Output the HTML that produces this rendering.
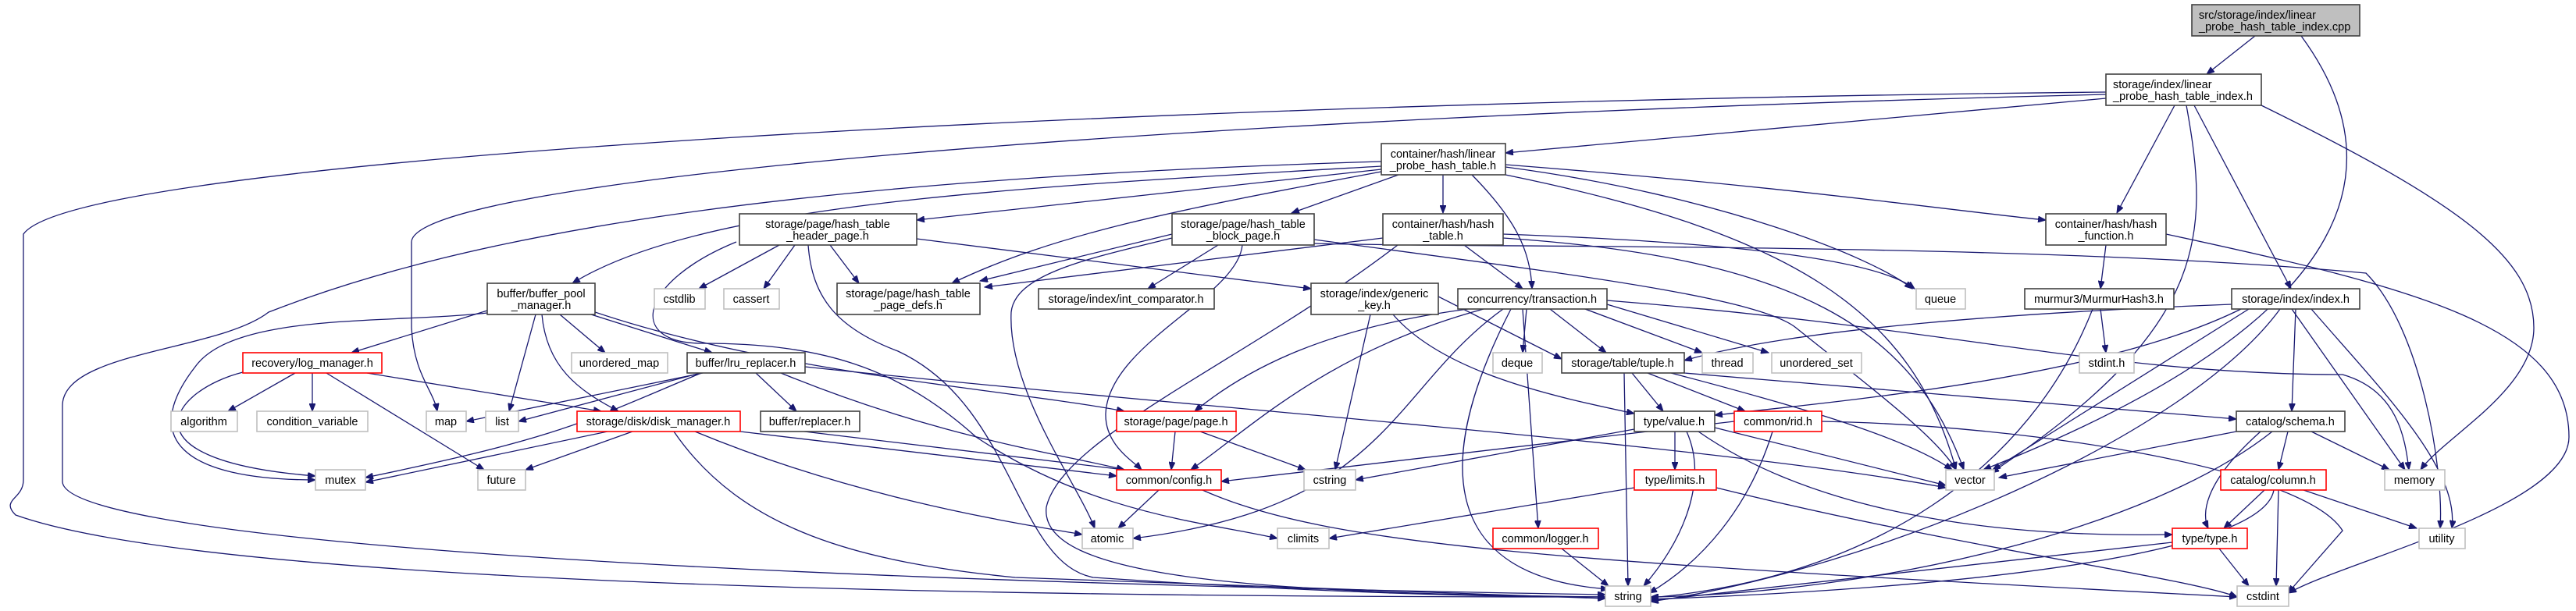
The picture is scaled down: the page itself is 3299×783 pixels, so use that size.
<!DOCTYPE html>
<html><head><meta charset="utf-8"><style>
html,body{margin:0;padding:0;background:#fff;width:3299px;height:783px;overflow:hidden}
svg{display:block}
text{font-family:"Liberation Sans",sans-serif;font-size:14.5px;fill:#000}
.e{fill:none;stroke:#191970;stroke-width:1.3;marker-end:url(#a)}
.n{fill:#fff;stroke:#404040;stroke-width:1.6}
.g{fill:#fff;stroke:#bfbfbf;stroke-width:1.6}
.r{fill:#fff;stroke:#ff0000;stroke-width:1.6}
.c{fill:#bfbfbf;stroke:#404040;stroke-width:1.6}
</style></head><body>
<svg width="3299" height="783" viewBox="0 0 3299 783" xmlns="http://www.w3.org/2000/svg">
<defs><marker id="a" markerUnits="userSpaceOnUse" markerWidth="11" markerHeight="8" refX="10" refY="4" orient="auto"><path d="M0,0 L10,4 L0,8 z" fill="#191970" stroke="#191970"/></marker></defs>
<g>
<path class="e" d="M2888,46 L2826,95"/>
<path class="e" d="M2947,46 C3060,200 3050,400 2540,602"/>
<path class="e" d="M2697,118 C1500,130 100,200 30,300 L30,615 C30,640 0,640 20,660 C300,760 1500,765 2056,765"/>
<path class="e" d="M2697,121 C1500,150 530,230 527,310 L527,420 C530,480 555,500 560,527"/>
<path class="e" d="M2697,126 L1928,196"/>
<path class="e" d="M2785,135 L2711,273"/>
<path class="e" d="M2800,135 C2830,300 2830,420 2550,606"/>
<path class="e" d="M2810,135 L2934,370"/>
<path class="e" d="M2896,135 C3150,260 3245,330 3245,420 C3245,500 3130,560 3100,602"/>
<path class="e" d="M1769,207 C1000,230 600,300 344,400 C280,450 80,450 80,520 L80,617 C80,680 700,740 2056,762"/>
<path class="e" d="M1769,213 C1300,240 900,260 733,363"/>
<path class="e" d="M1769,217 L1174,282"/>
<path class="e" d="M1769,220 C1500,270 1350,300 1219,363"/>
<path class="e" d="M1791,224 L1654,273"/>
<path class="e" d="M1848,224 L1848,273"/>
<path class="e" d="M1885,224 C1940,280 1960,320 1962,370"/>
<path class="e" d="M1928,211 C2300,240 2500,270 2620,282"/>
<path class="e" d="M1928,214 C2200,250 2400,330 2449,370"/>
<path class="e" d="M1928,224 C2300,300 2450,400 2505,602"/>
<path class="e" d="M1771,305 L1261,368"/>
<path class="e" d="M1875,314 L1950,370"/>
<path class="e" d="M1790,314 C1600,460 1360,560 1340,650 C1330,740 1600,760 2056,765"/>
<path class="e" d="M1925,300 C2200,310 2400,330 2452,370"/>
<path class="e" d="M1925,305 C2300,330 2450,420 2515,602"/>
<path class="e" d="M1683,312 C1900,318 2600,310 3030,350 C3100,420 3130,600 3125,677"/>
<path class="e" d="M1501,300 L1255,360"/>
<path class="e" d="M1560,314 L1470,370"/>
<path class="e" d="M1591,314 C1585,380 1420,440 1416,530 C1415,570 1450,590 1462,602"/>
<path class="e" d="M1501,305 C1400,330 1300,350 1295,400 C1290,500 1380,620 1402,677"/>
<path class="e" d="M1683,307 C2000,350 2250,380 2300,420 C2400,500 2480,560 2505,602"/>
<path class="e" d="M998,314 L895,370"/>
<path class="e" d="M1018,314 L978,370"/>
<path class="e" d="M1063,314 L1100,363"/>
<path class="e" d="M1174,306 L1679,370"/>
<path class="e" d="M943,310 C820,360 800,440 900,440 C1050,440 1150,470 1250,560 C1400,660 1550,670 1636,690"/>
<path class="e" d="M1035,314 C1040,380 1070,420 1150,450 C1300,520 1300,720 1400,740 C1700,760 1900,765 2056,765"/>
<path class="e" d="M624,398 L450,452"/>
<path class="e" d="M624,401 C500,415 300,400 250,470 C180,560 230,615 404,615"/>
<path class="e" d="M686,403 L652,527"/>
<path class="e" d="M717,403 L775,452"/>
<path class="e" d="M757,403 L912,452"/>
<path class="e" d="M694,403 C700,470 740,500 792,527"/>
<path class="e" d="M762,400 C1000,480 1300,500 1440,527"/>
<path class="e" d="M378,478 L292,527"/>
<path class="e" d="M400,478 L400,527"/>
<path class="e" d="M418,478 L620,602"/>
<path class="e" d="M311,477 C220,500 150,590 404,610"/>
<path class="e" d="M470,478 L770,527"/>
<path class="e" d="M900,478 L597,540"/>
<path class="e" d="M897,478 L664,540"/>
<path class="e" d="M898,478 C750,540 720,560 468,612"/>
<path class="e" d="M968,478 L1020,527"/>
<path class="e" d="M1000,478 C1200,560 1350,580 1440,602"/>
<path class="e" d="M1031,470 C1500,520 2200,570 2492,625"/>
<path class="e" d="M778,553 L468,618"/>
<path class="e" d="M810,553 L673,602"/>
<path class="e" d="M890,553 C1100,640 1300,670 1386,685"/>
<path class="e" d="M863,553 C950,680 1100,720 1300,740 L2056,767"/>
<path class="e" d="M948,553 L1430,610"/>
<path class="e" d="M1030,553 L1440,602"/>
<path class="e" d="M1505,553 L1500,602"/>
<path class="e" d="M1537,553 L1672,602"/>
<path class="e" d="M1484,628 L1432,677"/>
<path class="e" d="M1540,628 C1700,700 2000,720 2865,765"/>
<path class="e" d="M1880,396 C1700,420 1600,470 1530,527"/>
<path class="e" d="M1900,396 C1700,450 1600,550 1525,602"/>
<path class="e" d="M1925,396 C1780,500 1780,650 1451,690"/>
<path class="e" d="M1935,396 C1830,600 1850,740 2060,755"/>
<path class="e" d="M1950,396 L1970,677"/>
<path class="e" d="M1955,396 L1950,452"/>
<path class="e" d="M1985,396 L2057,452"/>
<path class="e" d="M2030,396 L2180,452"/>
<path class="e" d="M2058,390 L2265,452"/>
<path class="e" d="M2058,385 C2500,420 2700,480 3000,480 C3070,500 3080,560 3085,602"/>
<path class="e" d="M1842,380 L2000,460"/>
<path class="e" d="M1755,403 L1710,602"/>
<path class="e" d="M1784,403 C1850,480 2000,510 2093,530"/>
<path class="e" d="M2090,478 L2130,527"/>
<path class="e" d="M2080,478 L2085,751"/>
<path class="e" d="M2110,478 L2235,527"/>
<path class="e" d="M2157,478 L2864,537"/>
<path class="e" d="M2140,478 C2300,520 2440,560 2500,602"/>
<path class="e" d="M2093,550 L1736,615"/>
<path class="e" d="M2145,553 L2145,602"/>
<path class="e" d="M2160,553 C2190,620 2150,700 2105,751"/>
<path class="e" d="M2175,553 C2300,640 2500,690 2782,685"/>
<path class="e" d="M2196,548 L2492,622"/>
<path class="e" d="M2221,540 L1564,617"/>
<path class="e" d="M2270,553 C2240,650 2180,720 2112,760"/>
<path class="e" d="M2333,540 C2600,545 2950,600 3000,680 L2930,760"/>
<path class="e" d="M2093,625 L1702,690"/>
<path class="e" d="M2198,625 C2500,700 2800,740 2865,765"/>
<path class="e" d="M2000,703 L2060,751"/>
<path class="e" d="M2864,553 L2560,612"/>
<path class="e" d="M2930,553 L2918,602"/>
<path class="e" d="M2960,553 L3060,602"/>
<path class="e" d="M2895,553 C2820,620 2820,660 2828,677"/>
<path class="e" d="M2910,553 C2750,680 2400,760 2114,765"/>
<path class="e" d="M2900,628 L2848,677"/>
<path class="e" d="M2950,628 L3095,677"/>
<path class="e" d="M2918,628 L2915,751"/>
<path class="e" d="M2912,628 C2900,700 2600,750 2114,768"/>
<path class="e" d="M2782,695 L2114,770"/>
<path class="e" d="M2842,703 L2880,751"/>
<path class="e" d="M2880,396 L2552,602"/>
<path class="e" d="M2935,396 L3080,602"/>
<path class="e" d="M2960,396 C3050,500 3150,600 3140,677"/>
<path class="e" d="M2940,396 L2935,527"/>
<path class="e" d="M2870,396 C2700,480 2400,510 2196,532"/>
<path class="e" d="M2858,390 C2600,400 2300,420 2157,462"/>
<path class="e" d="M2920,396 C2800,560 2400,730 2114,771"/>
<path class="e" d="M2690,396 L2697,452"/>
<path class="e" d="M2680,396 C2600,600 2400,740 2114,766"/>
<path class="e" d="M2697,314 L2690,370"/>
<path class="e" d="M2774,300 C3100,370 3290,420 3290,560 C3290,650 3000,720 2931,760"/>
</g>
<g>
<rect class="c" x="2807" y="6" width="215" height="40"/><text x="2816" y="24">src/storage/index/linear</text><text x="2816" y="39">_probe_hash_table_index.cpp</text>
<rect class="n" x="2697" y="95" width="199" height="40"/><text x="2706" y="113">storage/index/linear</text><text x="2706" y="128">_probe_hash_table_index.h</text>
<rect class="n" x="1769" y="184" width="159" height="40"/><text x="1848" y="202" text-anchor="middle">container/hash/linear</text><text x="1848" y="217" text-anchor="middle">_probe_hash_table.h</text>
<rect class="n" x="947" y="274" width="227" height="40"/><text x="1060" y="292" text-anchor="middle">storage/page/hash_table</text><text x="1060" y="307" text-anchor="middle">_header_page.h</text>
<rect class="n" x="1501" y="274" width="182" height="40"/><text x="1592" y="292" text-anchor="middle">storage/page/hash_table</text><text x="1592" y="307" text-anchor="middle">_block_page.h</text>
<rect class="n" x="1771" y="274" width="154" height="40"/><text x="1848" y="292" text-anchor="middle">container/hash/hash</text><text x="1848" y="307" text-anchor="middle">_table.h</text>
<rect class="n" x="2620" y="274" width="154" height="40"/><text x="2697" y="292" text-anchor="middle">container/hash/hash</text><text x="2697" y="307" text-anchor="middle">_function.h</text>
<rect class="n" x="624" y="363" width="138" height="40"/><text x="693" y="381" text-anchor="middle">buffer/buffer_pool</text><text x="693" y="396" text-anchor="middle">_manager.h</text>
<rect class="n" x="1072" y="363" width="183" height="40"/><text x="1163" y="381" text-anchor="middle">storage/page/hash_table</text><text x="1163" y="396" text-anchor="middle">_page_defs.h</text>
<rect class="n" x="1679" y="363" width="163" height="40"/><text x="1760" y="381" text-anchor="middle">storage/index/generic</text><text x="1760" y="396" text-anchor="middle">_key.h</text>
<rect class="n" x="1330" y="370" width="225" height="26"/><text x="1442" y="388" text-anchor="middle">storage/index/int_comparator.h</text>
<rect class="n" x="1867" y="370" width="191" height="26"/><text x="1962" y="388" text-anchor="middle">concurrency/transaction.h</text>
<rect class="g" x="838" y="370" width="65" height="26"/><text x="870" y="388" text-anchor="middle">cstdlib</text>
<rect class="g" x="927" y="370" width="71" height="26"/><text x="962" y="388" text-anchor="middle">cassert</text>
<rect class="g" x="2454" y="370" width="63" height="26"/><text x="2485" y="388" text-anchor="middle">queue</text>
<rect class="n" x="2593" y="370" width="191" height="26"/><text x="2688" y="388" text-anchor="middle">murmur3/MurmurHash3.h</text>
<rect class="n" x="2858" y="370" width="164" height="26"/><text x="2940" y="388" text-anchor="middle">storage/index/index.h</text>
<rect class="r" x="311" y="452" width="178" height="26"/><text x="400" y="470" text-anchor="middle">recovery/log_manager.h</text>
<rect class="g" x="732" y="452" width="123" height="26"/><text x="793" y="470" text-anchor="middle">unordered_map</text>
<rect class="n" x="880" y="452" width="151" height="26"/><text x="955" y="470" text-anchor="middle">buffer/lru_replacer.h</text>
<rect class="g" x="1912" y="452" width="63" height="26"/><text x="1943" y="470" text-anchor="middle">deque</text>
<rect class="n" x="2000" y="452" width="157" height="26"/><text x="2078" y="470" text-anchor="middle">storage/table/tuple.h</text>
<rect class="g" x="2180" y="452" width="65" height="26"/><text x="2212" y="470" text-anchor="middle">thread</text>
<rect class="g" x="2269" y="452" width="115" height="26"/><text x="2326" y="470" text-anchor="middle">unordered_set</text>
<rect class="g" x="2663" y="452" width="70" height="26"/><text x="2698" y="470" text-anchor="middle">stdint.h</text>
<rect class="g" x="219" y="527" width="85" height="26"/><text x="261" y="545" text-anchor="middle">algorithm</text>
<rect class="g" x="329" y="527" width="142" height="26"/><text x="400" y="545" text-anchor="middle">condition_variable</text>
<rect class="g" x="546" y="527" width="51" height="26"/><text x="571" y="545" text-anchor="middle">map</text>
<rect class="g" x="622" y="527" width="42" height="26"/><text x="643" y="545" text-anchor="middle">list</text>
<rect class="r" x="739" y="527" width="209" height="26"/><text x="843" y="545" text-anchor="middle">storage/disk/disk_manager.h</text>
<rect class="n" x="974" y="527" width="127" height="26"/><text x="1037" y="545" text-anchor="middle">buffer/replacer.h</text>
<rect class="r" x="1430" y="527" width="153" height="26"/><text x="1506" y="545" text-anchor="middle">storage/page/page.h</text>
<rect class="n" x="2093" y="527" width="103" height="26"/><text x="2144" y="545" text-anchor="middle">type/value.h</text>
<rect class="r" x="2221" y="527" width="112" height="26"/><text x="2277" y="545" text-anchor="middle">common/rid.h</text>
<rect class="n" x="2864" y="527" width="139" height="26"/><text x="2933" y="545" text-anchor="middle">catalog/schema.h</text>
<rect class="g" x="404" y="602" width="64" height="26"/><text x="436" y="620" text-anchor="middle">mutex</text>
<rect class="g" x="612" y="602" width="61" height="26"/><text x="642" y="620" text-anchor="middle">future</text>
<rect class="r" x="1430" y="602" width="134" height="26"/><text x="1497" y="620" text-anchor="middle">common/config.h</text>
<rect class="g" x="1670" y="602" width="66" height="26"/><text x="1703" y="620" text-anchor="middle">cstring</text>
<rect class="r" x="2093" y="602" width="105" height="26"/><text x="2145" y="620" text-anchor="middle">type/limits.h</text>
<rect class="g" x="2492" y="602" width="62" height="26"/><text x="2523" y="620" text-anchor="middle">vector</text>
<rect class="r" x="2844" y="602" width="135" height="26"/><text x="2911" y="620" text-anchor="middle">catalog/column.h</text>
<rect class="g" x="3054" y="602" width="77" height="26"/><text x="3092" y="620" text-anchor="middle">memory</text>
<rect class="g" x="1386" y="677" width="65" height="26"/><text x="1418" y="695" text-anchor="middle">atomic</text>
<rect class="g" x="1636" y="677" width="66" height="26"/><text x="1669" y="695" text-anchor="middle">climits</text>
<rect class="r" x="1912" y="677" width="135" height="26"/><text x="1979" y="695" text-anchor="middle">common/logger.h</text>
<rect class="r" x="2782" y="677" width="96" height="26"/><text x="2830" y="695" text-anchor="middle">type/type.h</text>
<rect class="g" x="3098" y="677" width="59" height="26"/><text x="3127" y="695" text-anchor="middle">utility</text>
<rect class="g" x="2056" y="751" width="58" height="26"/><text x="2085" y="769" text-anchor="middle">string</text>
<rect class="g" x="2865" y="751" width="66" height="26"/><text x="2898" y="769" text-anchor="middle">cstdint</text>
</g>
</svg>
</body></html>
